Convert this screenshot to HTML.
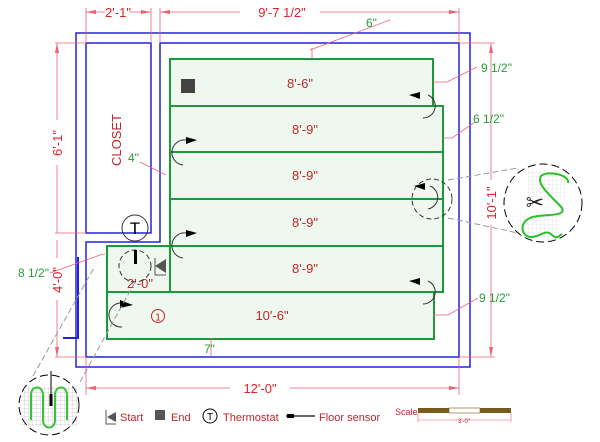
<!DOCTYPE html>
<html><head><meta charset="utf-8"><style>
html,body{margin:0;padding:0;background:#fff;}
svg{display:block;font-family:"Liberation Sans",sans-serif;}
</style></head><body>
<svg width="600" height="442" viewBox="0 0 600 442" xmlns="http://www.w3.org/2000/svg">
<defs>
<pattern id="grid" width="4" height="4" patternUnits="userSpaceOnUse"><path d="M4 0H0V4" fill="none" stroke="#999" stroke-width="0.4"/></pattern>
<pattern id="grid2" width="4" height="4" patternUnits="userSpaceOnUse"><path d="M4 0H0V4" fill="none" stroke="#ccc" stroke-width="0.4"/></pattern>
</defs>
<!-- walls -->
<g fill="none" stroke="#2222dd" stroke-width="1.5">
<path d="M76 33H470V367H76Z"/>
<path d="M86 43H151V233H86Z"/>
<path d="M160 43H459V357H86V242H160Z"/>
</g>
<path d="M78 257V338H63" fill="none" stroke="#2222dd" stroke-width="2"/>
<!-- mats -->
<g fill="#eef8ee" stroke="#1a9a3a" stroke-width="2">
<rect x="170" y="59" width="263" height="47"/>
<rect x="170" y="106" width="273" height="46"/>
<rect x="170" y="152" width="273" height="47"/>
<rect x="170" y="199" width="273" height="47"/>
<rect x="170" y="246" width="273" height="46"/>
<rect x="107" y="246" width="63" height="46"/>
<rect x="107" y="292" width="327" height="47"/>
</g>
<g fill="#c0262c" font-size="13" text-anchor="middle">
<text x="300" y="88">8'-6"</text>
<text x="305" y="134">8'-9"</text>
<text x="305" y="180">8'-9"</text>
<text x="305" y="227">8'-9"</text>
<text x="305" y="273">8'-9"</text>
<text x="272" y="320">10'-6"</text>
<text x="140" y="288">2'-0"</text>
<text x="121" y="140" transform="rotate(-90 121 140)">CLOSET</text>
</g>
<rect x="181" y="79" width="14" height="14" fill="#444"/>
<circle cx="158" cy="316" r="6.5" fill="none" stroke="#c0262c"/>
<text x="158" y="320.5" font-size="10" fill="#c0262c" text-anchor="middle">1</text>
<!-- turn arrows -->
<g fill="none" stroke="#333" stroke-width="1">
<path d="M183 165A12 12 0 0 1 186 140"/>
<path d="M183 258A12 12 0 0 1 186 233"/>
<path d="M122 327A12 12 0 0 1 120 303"/>
<path d="M423 118A12 12 0 0 0 428 95"/>
<path d="M423 304A12 12 0 0 0 428 281"/>
<path d="M428 209A12 12 0 0 0 430 186"/>
<circle cx="432" cy="199" r="20" stroke-dasharray="5 3"/>
<circle cx="135" cy="266" r="16" stroke-dasharray="5 3"/>
<circle cx="135" cy="228" r="13"/>
</g>
<g fill="#000">
<path d="M186 137L197 140L186 144Z"/>
<path d="M186 230L197 233L186 237Z"/>
<path d="M120 300L133 305L120 308Z"/>
<path d="M420 92L409 95L420 99Z"/>
<path d="M420 278L409 281L420 285Z"/>
<path d="M425 183L414 186L425 190Z"/>
</g>
<text x="135" y="234" font-size="17" text-anchor="middle" fill="#000">T</text>
<rect x="134" y="250" width="3" height="14" fill="#000"/>
<path d="M166 259L155 266L166 273Z" fill="#555"/>
<path d="M155 258V275H166" fill="none" stroke="#555"/>
<!-- dimension lines -->
<g stroke="#f06070" stroke-width="0.8" fill="none">
<path d="M86 8V43M151 8V43M86 12H105M130 12H151"/>
<path d="M160 8V43M459 8V43M160 12H240M320 12H459"/>
<path d="M55 43H86M55 233H86M57 43V120M57 165V233M55 357H86M57 240V258M57 300V357"/>
<path d="M459 43H495M491 43V180M491 225V357M459 357H495"/>
<path d="M86 357V395M459 357V395M86 388H230M290 388H459"/>
<path d="M310 50L390 20M312 48V59"/>
<path d="M433 82H447L477 67"/>
<path d="M443 138H452L475 122"/>
<path d="M433 315H448L478 298"/>
<path d="M166 175L140 162"/>
<path d="M105 254L100 255L50 273"/>
<path d="M211 338V357"/>
</g>
<g fill="#f06070">
<path d="M86 12L96 10V14Z"/><path d="M151 12L141 10V14Z"/>
<path d="M160 12L170 10V14Z"/><path d="M459 12L449 10V14Z"/>
<path d="M57 43L55 53H59Z"/><path d="M57 357L55 347H59Z"/>
<path d="M491 43L489 53H493Z"/><path d="M491 357L489 347H493Z"/>
<path d="M86 388L96 386V390Z"/><path d="M459 388L449 386V390Z"/>
</g>
<g fill="#e0202a" font-size="13" text-anchor="middle">
<text x="118" y="17">2'-1"</text>
<text x="282" y="17">9'-7 1/2"</text>
<text x="62" y="143" transform="rotate(-90 62 143)">6'-1"</text>
<text x="62" y="280" transform="rotate(-90 62 280)">4'-0"</text>
<text x="496" y="203" transform="rotate(-90 496 203)">10'-1"</text>
<text x="260" y="393">12'-0"</text>
</g>
<g fill="#2a9a3a" font-size="12">
<text x="366" y="27">6"</text>
<text x="481" y="72">9 1/2"</text>
<text x="473" y="123">6 1/2"</text>
<text x="479" y="302">9 1/2"</text>
<text x="128" y="162">4"</text>
<text x="18" y="277">8 1/2"</text>
<text x="204" y="353">7"</text>
</g>
<!-- right detail -->
<g fill="none">
<path d="M448 180L518 168M448 218L518 233" stroke="#999" stroke-dasharray="6 3"/>
<circle cx="543" cy="203" r="39" fill="#fff" stroke="#000" stroke-dasharray="8 4"/>
<rect x="528" y="170" width="38" height="30" fill="url(#grid2)"/>
<rect x="520" y="213" width="40" height="25" fill="url(#grid2)"/>
<path d="M568 183C570 175 548 170 541 176C535 185 556 200 562 208C567 218 540 213 530 218C520 222 520 235 530 237C540 238 545 228 552 235C558 240 558 236 562 234" stroke="#2ac02a" stroke-width="2"/>
</g>
<text x="535" y="210" font-size="22" text-anchor="middle" fill="#222">✂</text>
<!-- bottom-left detail -->
<path d="M33 376L95 266M80 382L135 282" stroke="#999" stroke-dasharray="6 3" fill="none"/>
<circle cx="49" cy="405" r="30" fill="#fff" stroke="#000" stroke-dasharray="8 4"/>
<rect x="21" y="386" width="56" height="40" fill="url(#grid)"/>
<path d="M31 420V395C31 385 43 385 43 395V420C43 430 55 430 55 420V395C55 385 67 385 67 395V420" fill="none" stroke="#3ac03a" stroke-width="2"/>
<path d="M51 371V395" stroke="#000"/>
<rect x="49.5" y="394" width="3" height="12" fill="#000"/>
<!-- legend -->
<path d="M106 410V424H116" fill="none" stroke="#555"/><path d="M116 412L107 417L116 422Z" fill="#555"/>
<text x="120" y="421" font-size="11" fill="#c0262c">Start</text>
<rect x="155" y="410" width="10" height="10" fill="#555"/>
<text x="171" y="421" font-size="11" fill="#c0262c">End</text>
<circle cx="210" cy="416" r="7" fill="none" stroke="#000"/>
<text x="210" y="420" font-size="10" text-anchor="middle">T</text>
<text x="223" y="421" font-size="11" fill="#c0262c">Thermostat</text>
<path d="M286 416H315" stroke="#333" stroke-width="1.5"/><rect x="287" y="414" width="7" height="4" fill="#000"/>
<text x="319" y="421" font-size="11" fill="#c0262c">Floor sensor</text>
<text x="395" y="415" font-size="9" fill="#c0262c">Scale</text>
<rect x="418" y="408" width="31" height="5" fill="#7a5a1a"/>
<rect x="449" y="408" width="31" height="5" fill="#fff" stroke="#7a5a1a" stroke-width="0.6"/>
<rect x="480" y="408" width="31" height="5" fill="#7a5a1a"/>
<path d="M418 413V422M511 413V422M418 420H511" stroke="#f06070" stroke-width="0.6" fill="none"/>
<text x="464" y="423" font-size="6" fill="#c0262c" text-anchor="middle">3'-0"</text>
</svg>
</body></html>
